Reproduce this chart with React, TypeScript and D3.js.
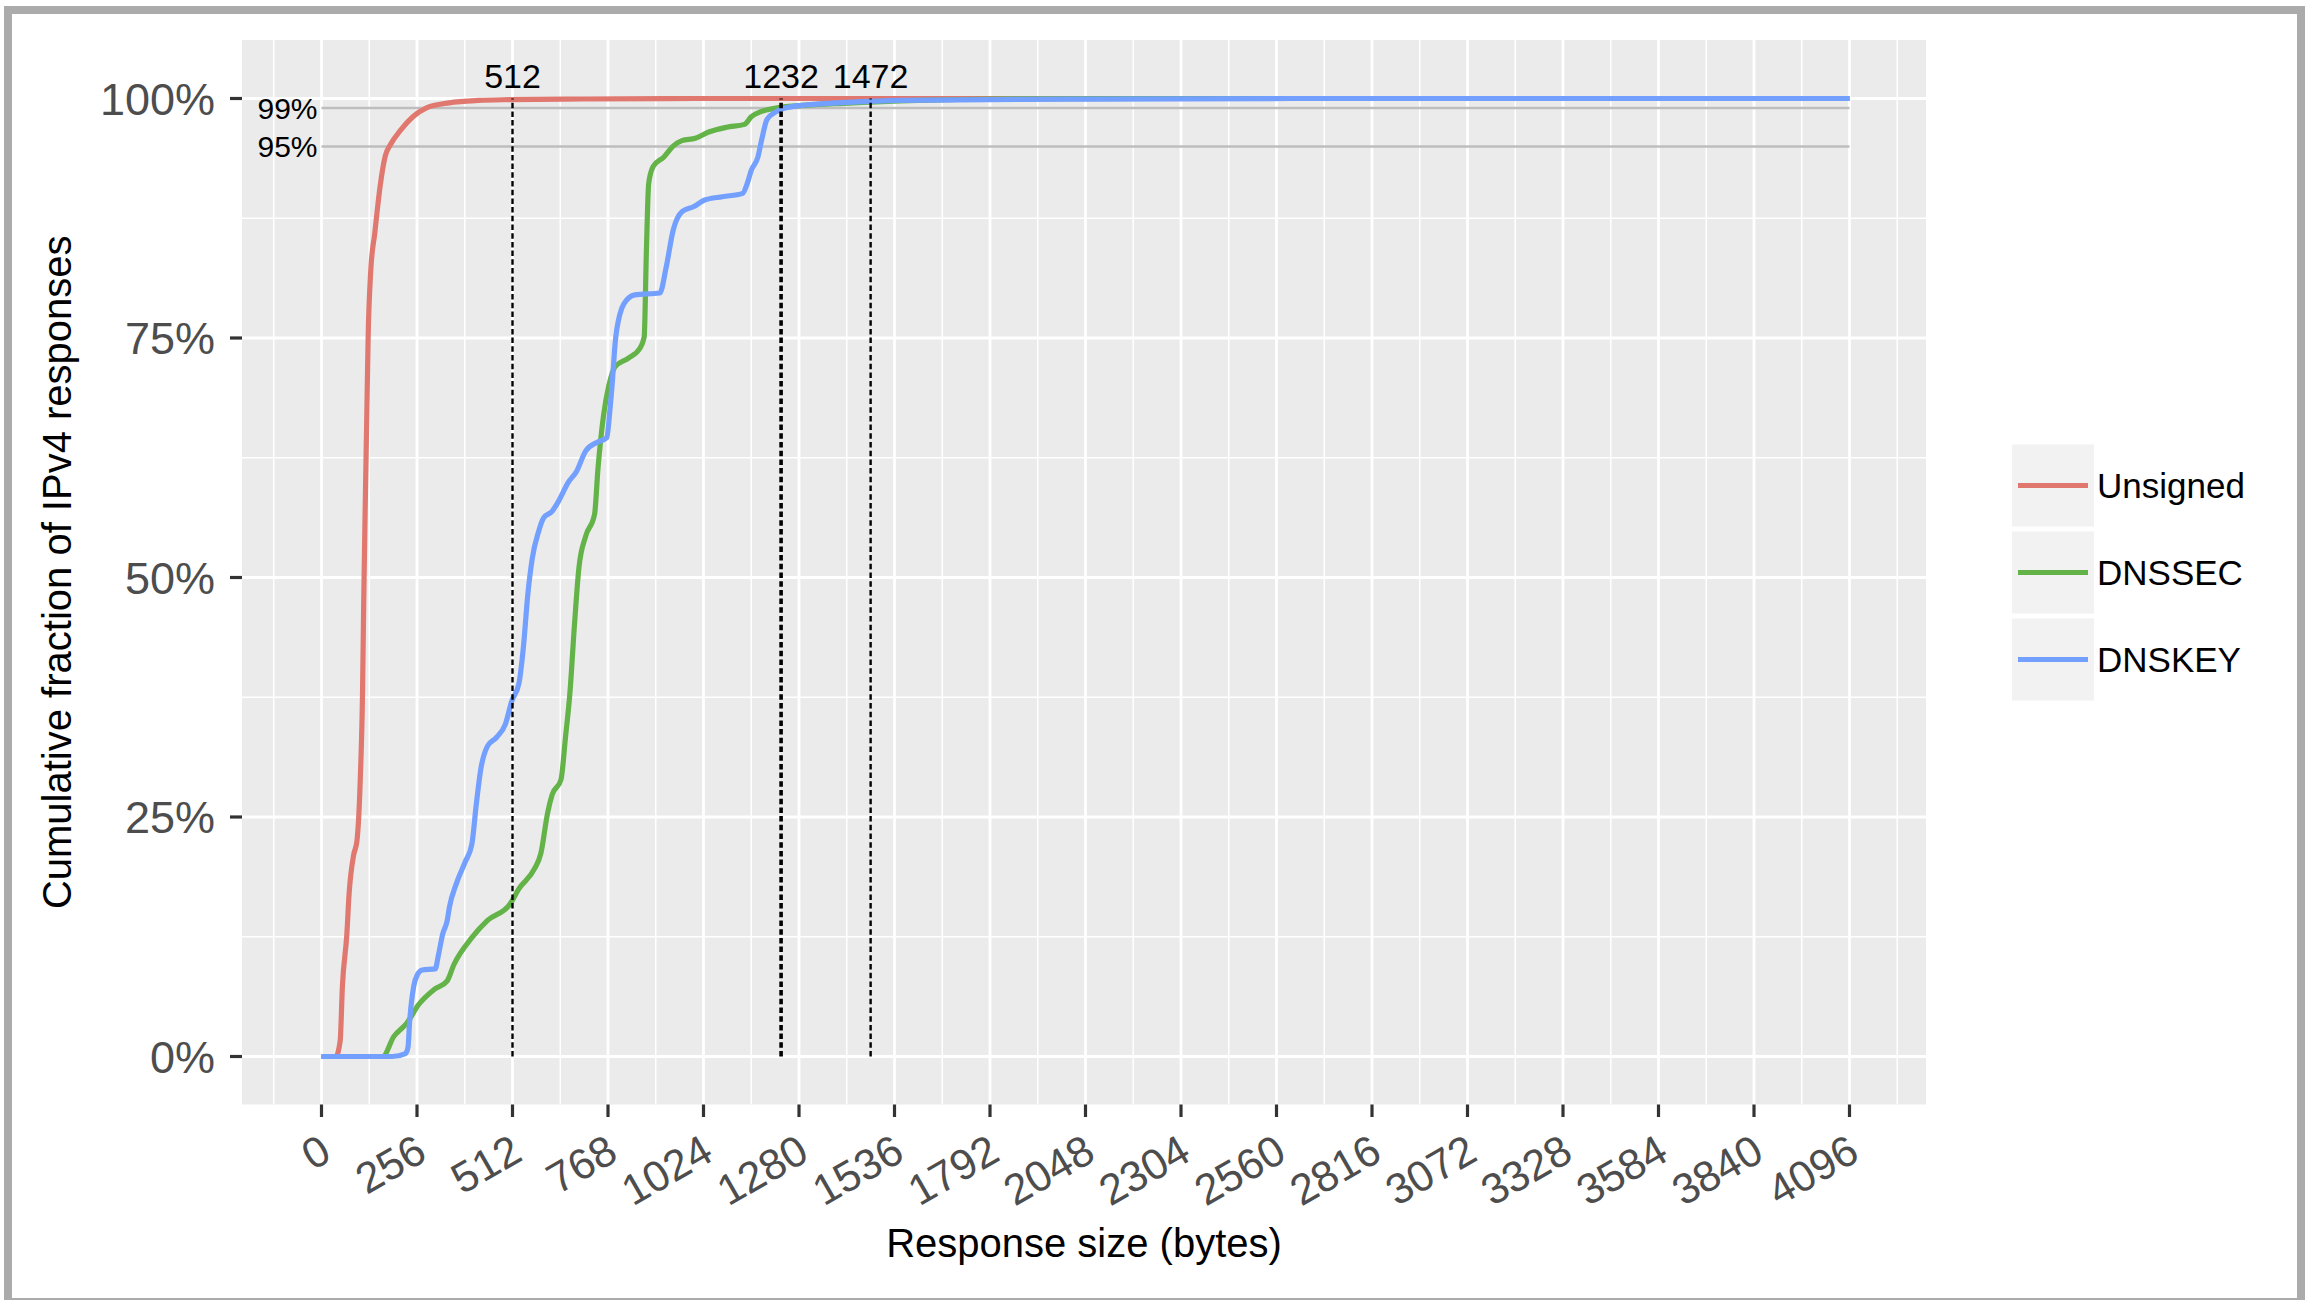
import React from "react";
import * as d3 from "d3";

// ---------- data ----------
const seriesNames = ["Unsigned", "DNSSEC", "DNSKEY"];
const seriesColors = ["#E0786F", "#63B348", "#739FFF"];

// [response size in bytes, cumulative fraction]
const unsignedCdf: [number, number][] = [
  [0, 0], [38, 0], [50, 0.016], [56, 0.073], [68, 0.128], [74, 0.17], [86, 0.21], [95, 0.225],
  [104, 0.29], [110, 0.38], [113, 0.47], [117, 0.57], [121, 0.66], [125, 0.75], [132, 0.82],
  [143, 0.86], [157, 0.908], [171, 0.94], [185, 0.952], [212, 0.967], [245, 0.981], [280, 0.99],
  [342, 0.9955], [420, 0.998], [505, 0.9988], [700, 0.9995], [1000, 1], [4096, 1],
];
const dnssecCdf: [number, number][] = [
  [0, 0], [164, 0], [194, 0.021], [229, 0.035], [260, 0.054], [302, 0.07], [337, 0.079], [355, 0.096],
  [403, 0.124], [445, 0.142], [505, 0.159], [529, 0.175], [571, 0.196], [588, 0.212], [606, 0.254],
  [618, 0.273], [642, 0.289], [654, 0.333], [666, 0.38], [678, 0.45], [690, 0.51], [708, 0.543],
  [732, 0.566], [741, 0.613], [756, 0.669], [770, 0.7], [787, 0.72], [823, 0.729], [853, 0.739],
  [865, 0.751], [871, 0.842], [877, 0.911], [889, 0.929], [918, 0.939], [942, 0.95], [966, 0.956],
  [1002, 0.9585], [1038, 0.965], [1086, 0.97], [1134, 0.973], [1152, 0.981], [1176, 0.986],
  [1218, 0.99], [1300, 0.993], [1400, 0.995], [1600, 0.998], [1800, 0.9995], [2200, 1], [4096, 1],
];
const dnskeyCdf: [number, number][] = [
  [0, 0], [190, 0], [225, 0.003], [232, 0.01], [236, 0.035], [247, 0.073], [258, 0.086], [270, 0.0903],
  [305, 0.0915], [313, 0.105], [325, 0.128], [337, 0.142], [343, 0.156], [361, 0.18], [385, 0.203],
  [403, 0.2215], [415, 0.2635], [427, 0.3], [445, 0.324], [469, 0.333], [493, 0.347], [510, 0.371],
  [529, 0.389], [541, 0.4265], [553, 0.482], [565, 0.52], [582, 0.548], [595, 0.562], [618, 0.569],
  [636, 0.58], [661, 0.599], [684, 0.611], [708, 0.632], [738, 0.641], [765, 0.646], [772, 0.67],
  [780, 0.706], [787, 0.744], [800, 0.775], [811, 0.786], [840, 0.795], [907, 0.797], [924, 0.824],
  [943, 0.863], [967, 0.882], [997, 0.887], [1027, 0.894], [1075, 0.8975], [1129, 0.901],
  [1141, 0.911], [1152, 0.925], [1170, 0.939], [1180, 0.957], [1194, 0.978], [1218, 0.986],
  [1242, 0.99], [1302, 0.9935], [1409, 0.996], [1551, 0.998], [2000, 0.9993], [2600, 1], [4096, 1],
];
const allSeries = [unsignedCdf, dnssecCdf, dnskeyCdf];

const xTicks = [0, 256, 512, 768, 1024, 1280, 1536, 1792, 2048, 2304, 2560, 2816, 3072, 3328, 3584, 3840, 4096];
const xMinorTicks = [-128, 128, 384, 640, 896, 1152, 1408, 1664, 1920, 2176, 2432, 2688, 2944, 3200, 3456, 3712, 3968, 4224];
const yTicks = [0, 0.25, 0.5, 0.75, 1];
const yTickLabels = ["0%", "25%", "50%", "75%", "100%"];
const yMinorTicks = [0.125, 0.375, 0.625, 0.875];
const refLevels = [0.99, 0.95];
const refLabels = ["99%", "95%"];
const markerSizes = [512, 1232, 1472];

// ---------- layout ----------
const W = 2311;
const H = 1300;
const panel = { left: 242, right: 1926, top: 40, bottom: 1104.5 };
const FONT = "'Liberation Sans', Arial, Helvetica, sans-serif";

export default function App() {
  const x = d3.scaleLinear().domain([0, 4096]).range([321.5, 1849.5]);
  const y = d3.scaleLinear().domain([0, 1]).range([1056.5, 98.5]);
  const line = d3
    .line<[number, number]>()
    .x((d) => x(d[0]))
    .y((d) => y(d[1]))
    .curve(d3.curveMonotoneX);

  const legendCenters = [485.5, 572.5, 659.5];

  return (
    <div style={{ position: "absolute", left: 0, top: 0 }}>
      <svg width={W} height={H} style={{ display: "block", background: "#fff" }} fontFamily={FONT}>
        {/* frame */}
        <rect x={8} y={10} width={2293} height={1292} fill="none" stroke="#ABABAB" strokeWidth={8} />

        {/* panel */}
        <rect x={panel.left} y={panel.top} width={panel.right - panel.left} height={panel.bottom - panel.top} fill="#EBEBEB" />
        {yMinorTicks.map((t) => (
          <line key={"ym" + t} x1={panel.left} x2={panel.right} y1={y(t)} y2={y(t)} stroke="#fff" strokeWidth={1.5} />
        ))}
        {xMinorTicks.map((t) => (
          <line key={"xm" + t} x1={x(t)} x2={x(t)} y1={panel.top} y2={panel.bottom} stroke="#fff" strokeWidth={1.5} />
        ))}
        {yTicks.map((t) => (
          <line key={"yM" + t} x1={panel.left} x2={panel.right} y1={y(t)} y2={y(t)} stroke="#fff" strokeWidth={2.8} />
        ))}
        {xTicks.map((t) => (
          <line key={"xM" + t} x1={x(t)} x2={x(t)} y1={panel.top} y2={panel.bottom} stroke="#fff" strokeWidth={2.8} />
        ))}

        {/* reference levels */}
        {refLevels.map((r, i) => (
          <g key={"ref" + r}>
            <line x1={x(0)} x2={x(4096)} y1={y(r)} y2={y(r)} stroke="#BEBEBE" strokeWidth={2.5} />
            <text x={x(0) - 4} y={y(r)} dy="0.36em" textAnchor="end" fontSize={30} fill="#000">
              {refLabels[i]}
            </text>
          </g>
        ))}

        {/* curves */}
        {allSeries.map((s, i) => (
          <path key={seriesNames[i]} d={line(s) || ""} fill="none" stroke={seriesColors[i]} strokeWidth={5.2} strokeLinejoin="round" />
        ))}

        {/* marker lines */}
        {markerSizes.map((m) => (
          <g key={"mk" + m}>
            <line x1={x(m)} x2={x(m)} y1={y(0)} y2={y(1)} stroke="#000" strokeWidth={m === 1232 ? 3.6 : 2.4} strokeDasharray="5.5,3.2" />
            <text x={x(m)} y={88} textAnchor="middle" fontSize={34} fill="#000">
              {m}
            </text>
          </g>
        ))}

        {/* y axis */}
        {yTicks.map((t, i) => (
          <g key={"yt" + t}>
            <line x1={panel.left - 12} x2={panel.left} y1={y(t)} y2={y(t)} stroke="#333" strokeWidth={3.2} />
            <text x={panel.left - 27} y={y(t)} dy="0.36em" textAnchor="end" fontSize={45} fill="#4D4D4D">
              {yTickLabels[i]}
            </text>
          </g>
        ))}
        {/* x axis */}
        {xTicks.map((t) => (
          <g key={"xt" + t}>
            <line x1={x(t)} x2={x(t)} y1={panel.bottom} y2={panel.bottom + 12.5} stroke="#333" strokeWidth={3.2} />
            <text
              transform={`translate(${x(t) + 12},1159) rotate(-30)`}
              textAnchor="end"
              fontSize={43}
              fill="#4D4D4D"
            >
              {t}
            </text>
          </g>
        ))}

        {/* axis titles */}
        <text x={(panel.left + panel.right) / 2} y={1257} textAnchor="middle" fontSize={40} fill="#000">
          Response size (bytes)
        </text>
        <text transform={`translate(71,${(panel.top + panel.bottom) / 2}) rotate(-90)`} textAnchor="middle" fontSize={40} fill="#000">
          Cumulative fraction of IPv4 responses
        </text>

        {/* legend */}
        {seriesNames.map((n, i) => (
          <g key={"lg" + n}>
            <rect x={2012} y={legendCenters[i] - 41} width={82} height={82} fill="#F2F2F2" />
            <line x1={2018} x2={2088} y1={legendCenters[i]} y2={legendCenters[i]} stroke={seriesColors[i]} strokeWidth={5} />
            <text x={2097} y={legendCenters[i]} dy="0.36em" fontSize={35} fill="#000">
              {n}
            </text>
          </g>
        ))}
      </svg>
    </div>
  );
}
